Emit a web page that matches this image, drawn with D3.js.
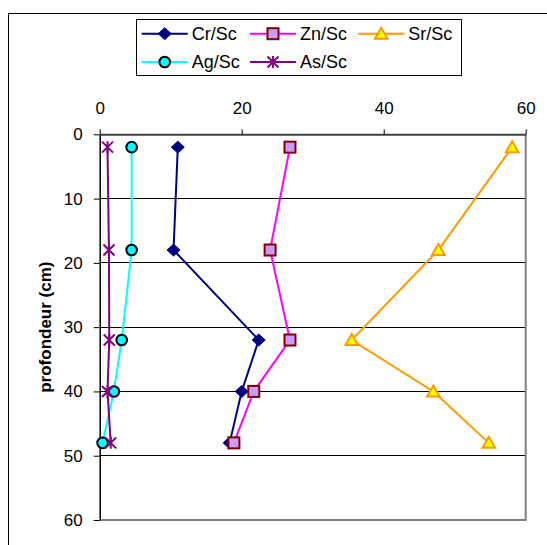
<!DOCTYPE html>
<html><head><meta charset="utf-8">
<script src="https://cdn.jsdelivr.net/npm/d3@7"></script>
<style>
html,body{margin:0;padding:0;background:#fff;}
svg{display:block;font-family:"Liberation Sans",Arial,sans-serif;}
</style></head>
<body>
<svg id="chart" width="547" height="545"></svg>
<script>
const depths = [2, 18, 32, 40, 48];
const crSc = [11.0, 10.4, 22.4, 20.0, 18.3];
const znSc = [26.8, 24.0, 26.8, 21.7, 18.9];
const srSc = [58.1, 47.7, 35.5, 47.0, 54.8];
const agSc = [4.5, 4.5, 3.1, 2.0, 0.4];
const asSc = [1.1, 1.3, 1.35, 1.1, 1.55];
const xTicks = [0, 20, 40, 60];
const yTicks = [0, 10, 20, 30, 40, 50, 60];
const seriesNames = ["Cr/Sc", "Zn/Sc", "Sr/Sc", "Ag/Sc", "As/Sc"];

const styles = {
  "Cr/Sc": {line: "#000080", marker: "diamond", fill: "#000080", stroke: "#000080"},
  "Zn/Sc": {line: "#FF00FF", marker: "square", fill: "#CC99FF", stroke: "#800000"},
  "Sr/Sc": {line: "#FF9900", marker: "triangle", fill: "#FFFF00", stroke: "#FF9900"},
  "Ag/Sc": {line: "#00FFFF", marker: "circle", fill: "#00FFFF", stroke: "#000000"},
  "As/Sc": {line: "#800080", marker: "star", fill: "none", stroke: "#800080"}
};
const values = {"Cr/Sc": crSc, "Zn/Sc": znSc, "Sr/Sc": srSc, "Ag/Sc": agSc, "As/Sc": asSc};

const svg = d3.select("#chart");
const L = 99.7, R = 525.7, T = 134.3, B = 520;
const x = d3.scaleLinear().domain([0, 60]).range([L, R]);
const y = d3.scaleLinear().domain([0, 60]).range([T, B]);
const FONT = "Liberation Sans, Arial, sans-serif";

// outer chart border
svg.append("rect").attr("x", 8.5).attr("y", 13.5).attr("width", 560).attr("height", 560)
  .attr("fill", "#fff").attr("stroke", "#000").attr("stroke-width", 1);

// gridlines
svg.append("g").selectAll("line").data(yTicks.filter(d => d > 0 && d < 60)).join("line")
  .attr("x1", L).attr("x2", R)
  .attr("y1", d => Math.floor(y(d)) + 0.5).attr("y2", d => Math.floor(y(d)) + 0.5)
  .attr("stroke", "#000").attr("stroke-width", 1);

// plot border right & bottom
svg.append("path").attr("d", `M${R},${T}V${B}H${L}`).attr("fill", "none")
  .attr("stroke", "#808080").attr("stroke-width", 2);

// axes
const xAxis = d3.axisTop(x).tickValues(xTicks).tickSize(5).tickSizeOuter(0).tickFormat(d3.format("d"));
const gx = svg.append("g").attr("transform", `translate(0,${T})`).call(xAxis);
gx.select(".domain").attr("stroke", "#404040").attr("stroke-width", 2);
gx.selectAll(".tick line").attr("stroke", "#000");
gx.selectAll(".tick text").attr("font-size", 17).attr("fill", "#000")
  .attr("font-family", FONT).attr("dy", "-0.72em");

const yAxis = d3.axisLeft(y).tickValues(yTicks).tickSize(6).tickSizeOuter(0).tickFormat(d3.format("d"));
const gy = svg.append("g").attr("transform", `translate(${L},0)`).call(yAxis);
gy.select(".domain").attr("stroke", "#000").attr("stroke-width", 1.5);
gy.selectAll(".tick line").attr("stroke", "#000");
gy.selectAll(".tick text").attr("font-size", 17).attr("fill", "#000")
  .attr("font-family", FONT).attr("x", -17);

svg.append("text").attr("transform", `translate(51,${(T + B) / 2}) rotate(-90)`)
  .attr("text-anchor", "middle").attr("font-size", 17).attr("font-weight", "bold")
  .attr("font-family", FONT).text("profondeur (cm)");

// marker drawing
function drawMarker(g, type, s) {
  if (type === "diamond") {
    g.append("path").attr("d", "M0,-6L6.5,0L0,6L-6.5,0Z").attr("fill", s.fill).attr("stroke", s.stroke).attr("stroke-width", 1);
  } else if (type === "square") {
    g.append("rect").attr("x", -5.5).attr("y", -5.5).attr("width", 11).attr("height", 11)
      .attr("fill", s.fill).attr("stroke", s.stroke).attr("stroke-width", 2);
  } else if (type === "triangle") {
    g.append("path").attr("d", "M0,-6L6.3,5L-6.3,5Z").attr("fill", s.fill).attr("stroke", s.stroke).attr("stroke-width", 2);
  } else if (type === "circle") {
    g.append("circle").attr("r", 5.3).attr("fill", s.fill).attr("stroke", s.stroke).attr("stroke-width", 2);
  } else if (type === "star") {
    g.append("path").attr("d", "M-5.5,-5.5L5.5,5.5M-5.5,5.5L5.5,-5.5M0,-6V6").attr("stroke", s.stroke).attr("stroke-width", 2).attr("fill", "none");
  }
}

const line = d3.line().x(d => x(d[0])).y(d => y(d[1]));
seriesNames.forEach(name => {
  const s = styles[name];
  const pts = values[name].map((v, i) => [v, depths[i]]);
  const g = svg.append("g");
  g.append("path").datum(pts).attr("d", line).attr("fill", "none").attr("stroke", s.line).attr("stroke-width", 2);
  g.selectAll("g.m").data(pts).join("g").attr("class", "m")
    .attr("transform", d => `translate(${x(d[0])},${y(d[1])})`)
    .each(function () { drawMarker(d3.select(this), s.marker, s); });
});

// legend
const lg = svg.append("g");
lg.append("rect").attr("x", 136.5).attr("y", 19.5).attr("width", 325).attr("height", 56)
  .attr("fill", "#fff").attr("stroke", "#000").attr("stroke-width", 1);
const legendPos = [[141.7, 33.7], [250, 33.7], [358.3, 33.7], [141.7, 62], [250, 62]];
seriesNames.forEach((name, i) => {
  const s = styles[name];
  const [lx, ly] = legendPos[i];
  const g = lg.append("g");
  g.append("line").attr("x1", lx).attr("x2", lx + 46).attr("y1", ly).attr("y2", ly)
    .attr("stroke", s.line).attr("stroke-width", 2);
  drawMarker(g.append("g").attr("transform", `translate(${lx + 23},${ly})`), s.marker, s);
  g.append("text").attr("x", lx + 50).attr("y", ly).attr("dy", "0.36em")
    .attr("font-size", 18).attr("fill", "#000").attr("font-family", FONT).text(name);
});
</script>
</body></html>
